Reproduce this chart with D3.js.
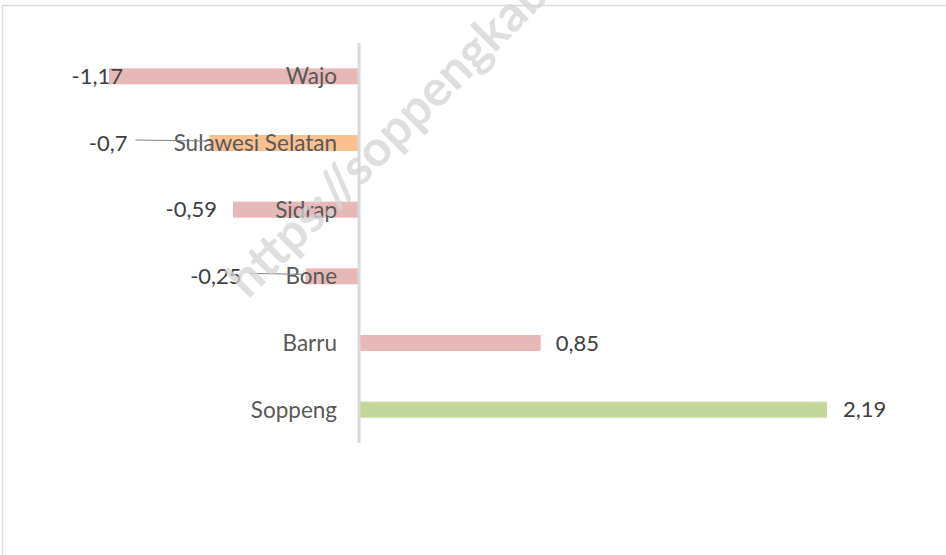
<!DOCTYPE html>
<html>
<head>
<meta charset="utf-8">
<script src="https://cdn.jsdelivr.net/npm/d3@7"></script>
<style>
  body { margin: 0; background: #fff; }
  svg { display: block; }
</style>
</head>
<body>
<svg id="chart"></svg>
<script>
// data, top to bottom
const categories = ["Wajo", "Sulawesi Selatan", "Sidrap", "Bone", "Barru", "Soppeng"];
const values = [-1.17, -0.7, -0.59, -0.25, 0.85, 2.19];
const barColors = ["#e6b8b7", "#fac090", "#e6b8b7", "#e6b8b7", "#e6b8b7", "#c4d79b"];

// label nudges (px from bar end), the ones moved by hand in the original
const labelDx = [14, -82, -16, -64, 15, 16];
const leader = [false, true, false, true, false, false];

const width = 946, height = 555;
const font = "Lato, 'Open Sans', sans-serif";

const svg = d3.select("#chart")
    .attr("width", width)
    .attr("height", height)
    .attr("viewBox", [0, 0, width, height]);

// chart frame (runs off the right and bottom edge)
svg.append("rect")
    .attr("x", 2.5).attr("y", 5.5)
    .attr("width", 1000).attr("height", 600)
    .attr("fill", "none")
    .attr("stroke", "#d9d9d9")
    .attr("stroke-width", 1.5);

const x = d3.scaleLinear([-1.5, 2.5], [38.5, 893.3]);
const y = d3.scaleBand(categories, [43, 443]).paddingInner(0.76).paddingOuter(0.38);

const locale = d3.formatLocale({decimal: ",", thousands: ".", grouping: [3], currency: ["", ""], minus: "-"});
const fmt = locale.format("~g");

const I = d3.range(categories.length);

svg.append("g")
  .selectAll("rect")
  .data(I)
  .join("rect")
    .attr("x", i => x(Math.min(0, values[i])))
    .attr("y", i => y(categories[i]))
    .attr("width", i => Math.abs(x(values[i]) - x(0)))
    .attr("height", y.bandwidth())
    .attr("fill", i => barColors[i]);

// zero axis
svg.append("line")
    .attr("x1", x(0)).attr("x2", x(0))
    .attr("y1", 43).attr("y2", 443)
    .attr("stroke", "#d9d9d9")
    .attr("stroke-width", 3);

const cy = i => y(categories[i]) + y.bandwidth() / 2;

// category labels just left of the axis
svg.append("g")
    .attr("font-family", font)
    .attr("font-size", 22.5)
    .attr("fill", "#595959")
    .attr("text-anchor", "end")
  .selectAll("text")
  .data(I)
  .join("text")
    .attr("x", x(0) - 22)
    .attr("y", cy)
    .attr("dy", "0.35em")
    .text(i => categories[i]);

// leader lines
svg.append("g")
    .attr("stroke", "#808080")
    .attr("stroke-width", 1)
  .selectAll("line")
  .data(I.filter(i => leader[i]))
  .join("line")
    .attr("x1", i => x(values[i]) + labelDx[i] + 8)
    .attr("x2", i => x(values[i]) - 3)
    .attr("y1", i => cy(i) - 3)
    .attr("y2", i => cy(i) - 2);

// value labels
svg.append("g")
    .attr("font-family", font)
    .attr("font-size", 22)
    .attr("fill", "#404040")
  .selectAll("text")
  .data(I)
  .join("text")
    .attr("x", i => x(values[i]) + labelDx[i])
    .attr("y", cy)
    .attr("dy", "0.35em")
    .attr("text-anchor", i => values[i] < 0 ? "end" : "start")
    .text(i => fmt(values[i]));

// watermark
svg.append("text")
    .attr("transform", "translate(248,300) rotate(-45)")
    .attr("font-family", "Lato, sans-serif")
    .attr("font-weight", "bold")
    .attr("font-size", 50)
    .attr("fill", "#d4d4d4")
    .attr("fill-opacity", 0.75)
    .text("https://soppengkab.bps.go.id");
</script>
</body>
</html>
